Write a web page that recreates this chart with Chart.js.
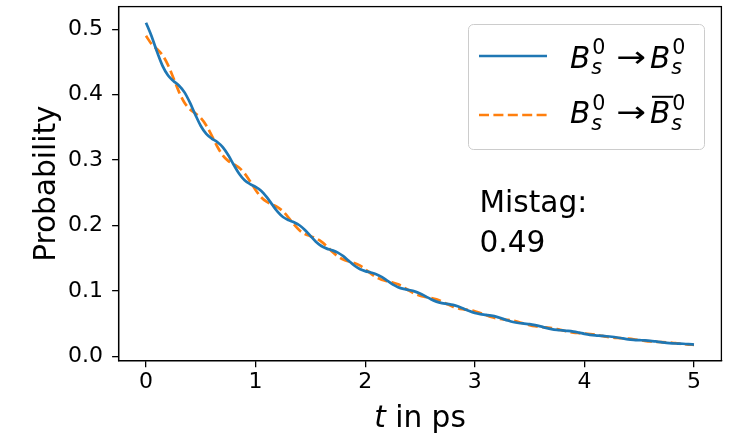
<!DOCTYPE html>
<html>
<head>
<meta charset="utf-8">
<script src="https://cdn.jsdelivr.net/npm/chart.js@4.4.0/dist/chart.umd.min.js"></script>
<style>
  html, body { margin: 0; padding: 0; background: #fff; }
  #wrap { width: 732px; height: 437px; position: relative; }
</style>
</head>
<body>
<div id="wrap"><canvas id="chart"></canvas></div>
<script>
// decay time in ps
const times = [
  0.00, 0.05, 0.10, 0.15, 0.20, 0.25, 0.30, 0.35, 0.40, 0.45,
  0.50, 0.55, 0.60, 0.65, 0.70, 0.75, 0.80, 0.85, 0.90, 0.95,
  1.00, 1.05, 1.10, 1.15, 1.20, 1.25, 1.30, 1.35, 1.40, 1.45,
  1.50, 1.55, 1.60, 1.65, 1.70, 1.75, 1.80, 1.85, 1.90, 1.95,
  2.00, 2.05, 2.10, 2.15, 2.20, 2.25, 2.30, 2.35, 2.40, 2.45,
  2.50, 2.55, 2.60, 2.65, 2.70, 2.75, 2.80, 2.85, 2.90, 2.95,
  3.00, 3.05, 3.10, 3.15, 3.20, 3.25, 3.30, 3.35, 3.40, 3.45,
  3.50, 3.55, 3.60, 3.65, 3.70, 3.75, 3.80, 3.85, 3.90, 3.95,
  4.00, 4.05, 4.10, 4.15, 4.20, 4.25, 4.30, 4.35, 4.40, 4.45,
  4.50, 4.55, 4.60, 4.65, 4.70, 4.75, 4.80, 4.85, 4.90, 4.95,
  5.00
];

// Bs0 -> Bs0 (solid blue)
const unmixed = [
  0.5100, 0.4897, 0.4658, 0.4444, 0.4296, 0.4210, 0.4141, 0.4039, 0.3882, 0.3694,
  0.3521, 0.3400, 0.3329, 0.3276, 0.3198, 0.3077, 0.2929, 0.2791, 0.2691, 0.2633,
  0.2591, 0.2532, 0.2439, 0.2323, 0.2212, 0.2130, 0.2083, 0.2049, 0.2004, 0.1933,
  0.1842, 0.1753, 0.1687, 0.1647, 0.1621, 0.1586, 0.1532, 0.1460, 0.1389, 0.1336,
  0.1303, 0.1282, 0.1256, 0.1214, 0.1158, 0.1101, 0.1058, 0.1031, 0.1014, 0.0994,
  0.0962, 0.0918, 0.0873, 0.0837, 0.0815, 0.0802, 0.0787, 0.0762, 0.0728, 0.0692,
  0.0663, 0.0645, 0.0634, 0.0622, 0.0604, 0.0577, 0.0549, 0.0525, 0.0510, 0.0501,
  0.0493, 0.0478, 0.0458, 0.0435, 0.0416, 0.0404, 0.0397, 0.0390, 0.0379, 0.0363,
  0.0345, 0.0330, 0.0320, 0.0314, 0.0308, 0.0300, 0.0288, 0.0274, 0.0261, 0.0253,
  0.0248, 0.0244, 0.0238, 0.0228, 0.0217, 0.0207, 0.0200, 0.0196, 0.0193, 0.0188,
  0.0181
];

// Bs0 -> anti-Bs0 (dashed orange)
const mixed = [
  0.4900, 0.4775, 0.4697, 0.4605, 0.4456, 0.4255, 0.4046, 0.3880, 0.3777, 0.3714,
  0.3644, 0.3530, 0.3374, 0.3208, 0.3073, 0.2988, 0.2937, 0.2884, 0.2797, 0.2675,
  0.2543, 0.2434, 0.2364, 0.2323, 0.2282, 0.2216, 0.2121, 0.2017, 0.1928, 0.1871,
  0.1837, 0.1805, 0.1755, 0.1682, 0.1599, 0.1528, 0.1480, 0.1453, 0.1428, 0.1390,
  0.1333, 0.1268, 0.1210, 0.1172, 0.1149, 0.1130, 0.1101, 0.1057, 0.1005, 0.0959,
  0.0927, 0.0909, 0.0894, 0.0872, 0.0838, 0.0797, 0.0760, 0.0734, 0.0719, 0.0707,
  0.0690, 0.0664, 0.0632, 0.0602, 0.0581, 0.0568, 0.0559, 0.0546, 0.0526, 0.0501,
  0.0477, 0.0460, 0.0450, 0.0442, 0.0433, 0.0417, 0.0397, 0.0378, 0.0364, 0.0356,
  0.0350, 0.0342, 0.0331, 0.0315, 0.0300, 0.0288, 0.0281, 0.0277, 0.0271, 0.0262,
  0.0250, 0.0238, 0.0228, 0.0222, 0.0219, 0.0215, 0.0208, 0.0198, 0.0188, 0.0181,
  0.0176
];

const xTicks = [0, 1, 2, 3, 4, 5];
const yTicks = [0.0, 0.1, 0.2, 0.3, 0.4, 0.5];
const mistag = '0.49';

const BLUE = '#1f77b4';
const ORANGE = '#ff7f0e';
const FONT = '"DejaVu Sans", Verdana, sans-serif';

Chart.defaults.font.family = FONT;
Chart.defaults.color = '#000';

// B_s^0 with optional bar, drawn as mathtext-like pieces
function drawMeson(ctx, x, y, bar) {
  ctx.font = 'italic 29.6px ' + FONT;
  ctx.fillText('B', x, y);
  const w = ctx.measureText('B').width;
  if (bar) ctx.fillRect(x + 2, y - 27.5, w + 1, 2);
  ctx.font = '20.7px ' + FONT;
  ctx.fillText('0', x + w + 2, y - 13.4);
  ctx.font = 'italic 20.7px ' + FONT;
  ctx.fillText('s', x + w + 1, y + 6.6);
}

const decorations = {
  id: 'decorations',
  afterDraw(chart) {
    const ctx = chart.ctx;
    const a = chart.chartArea;
    ctx.save();

    // frame
    ctx.strokeStyle = '#000';
    ctx.lineWidth = 1.3;
    ctx.strokeRect(a.left, a.top, a.right - a.left, a.bottom - a.top);

    ctx.fillStyle = '#000';
    ctx.textBaseline = 'alphabetic';

    // y title
    ctx.save();
    ctx.translate(55, (a.top + a.bottom) / 2);
    ctx.rotate(-Math.PI / 2);
    ctx.textAlign = 'center';
    ctx.font = '29.6px ' + FONT;
    ctx.fillText('Probability', 0, 0);
    ctx.restore();

    // x title: italic t + " in ps"
    ctx.textAlign = 'left';
    ctx.font = 'italic 29.6px ' + FONT;
    const wt = ctx.measureText('t').width;
    ctx.font = '29.6px ' + FONT;
    const wr = ctx.measureText(' in ps').width;
    const cx = (a.left + a.right) / 2;
    let sx = cx - (wt + wr) / 2;
    ctx.font = 'italic 29.6px ' + FONT;
    ctx.fillText('t', sx, 427);
    ctx.font = '29.6px ' + FONT;
    ctx.fillText(' in ps', sx + wt, 427);

    // mistag annotation
    ctx.font = '29.6px ' + FONT;
    ctx.fillText('Mistag:', 479.5, 212);
    ctx.fillText(mistag, 479.5, 252);

    // legend box
    ctx.beginPath();
    ctx.roundRect(468.5, 24.5, 236, 125, 5);
    ctx.fillStyle = 'rgba(255,255,255,0.8)';
    ctx.fill();
    ctx.strokeStyle = '#cccccc';
    ctx.lineWidth = 1;
    ctx.stroke();

    ctx.lineWidth = 2.7;
    ctx.strokeStyle = BLUE;
    ctx.beginPath();
    ctx.moveTo(479, 56);
    ctx.lineTo(547, 56);
    ctx.stroke();

    ctx.strokeStyle = ORANGE;
    ctx.setLineDash([10, 4.4]);
    ctx.beginPath();
    ctx.moveTo(479, 115);
    ctx.lineTo(547, 115);
    ctx.stroke();
    ctx.setLineDash([]);

    ctx.fillStyle = '#000';
    [[67.7, false], [123.3, true]].forEach(([base, bar]) => {
      drawMeson(ctx, 570, base, false);
      // stretched arrow, like the mathtext one
      ctx.save();
      ctx.translate(631, base - 1);
      ctx.scale(1.2, 1);
      ctx.font = '29.6px ' + FONT;
      ctx.textAlign = 'center';
      ctx.fillText('\u2192', 0, 0);
      ctx.restore();
      ctx.textAlign = 'left';
      drawMeson(ctx, 650, base, bar);
    });

    ctx.restore();
  }
};

new Chart(document.getElementById('chart'), {
  type: 'line',
  data: {
    labels: times,
    datasets: [
      {
        label: 'Bs0 -> Bs0',
        data: times.map((t, i) => ({ x: t, y: unmixed[i] })),
        borderColor: BLUE,
        borderWidth: 2.7,
        pointRadius: 0,
        cubicInterpolationMode: 'monotone',
        fill: false
      },
      {
        label: 'Bs0 -> anti-Bs0',
        data: times.map((t, i) => ({ x: t, y: mixed[i] })),
        borderColor: ORANGE,
        borderWidth: 2.7,
        borderDash: [10, 4.4],
        pointRadius: 0,
        cubicInterpolationMode: 'monotone',
        fill: false
      }
    ]
  },
  options: {
    responsive: true,
    maintainAspectRatio: false,
    animation: false,
    devicePixelRatio: 1,
    layout: { padding: { top: 6.6, right: 10.6, left: 0, bottom: 0 } },
    plugins: {
      legend: { display: false },
      tooltip: { enabled: false }
    },
    scales: {
      x: {
        type: 'linear',
        min: -0.25,
        max: 5.25,
        afterBuildTicks: s => { s.ticks = xTicks.map(v => ({ value: v })); },
        afterFit: s => { s.height = 76.3; s.paddingLeft = 0; s.paddingRight = 0; },
        ticks: {
          font: { size: 22 },
          color: '#000',
          padding: 2,
          maxRotation: 0,
          callback: v => String(v)
        },
        grid: { drawOnChartArea: false, drawTicks: true, tickLength: 6.5, color: '#000', lineWidth: 1.3 },
        border: { display: true, color: '#000', width: 1.3 }
      },
      y: {
        min: -0.0066,
        max: 0.5346,
        afterBuildTicks: s => { s.ticks = yTicks.map(v => ({ value: v })); },
        afterFit: s => { s.width = 118.6; s.paddingTop = 0; s.paddingBottom = 0; },
        ticks: {
          font: { size: 22 },
          color: '#000',
          padding: 9,
          callback: v => v.toFixed(1)
        },
        grid: { drawOnChartArea: false, drawTicks: true, tickLength: 6.5, color: '#000', lineWidth: 1.3 },
        border: { display: true, color: '#000', width: 1.3 }
      }
    }
  },
  plugins: [decorations]
});
</script>
</body>
</html>
